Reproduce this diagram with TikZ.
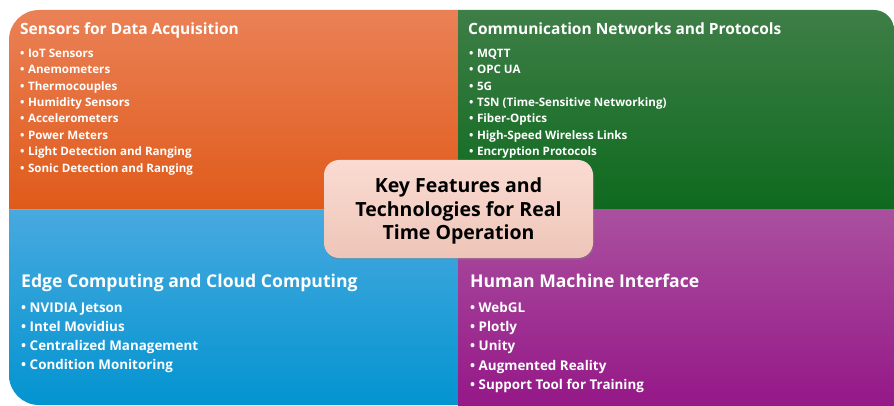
\documentclass[tikz,border=0pt]{standalone}
\usepackage{fontspec}
\setmainfont{Open Sans}
\usetikzlibrary{shadows}
\definecolor{orT}{HTML}{EA8156}
\definecolor{orB}{HTML}{E05A1A}
\definecolor{grT}{HTML}{3E7E47}
\definecolor{grB}{HTML}{0E6A1E}
\definecolor{blT}{HTML}{48A9DF}
\definecolor{blB}{HTML}{0394D0}
\definecolor{puT}{HTML}{AA509F}
\definecolor{puB}{HTML}{951888}
\definecolor{ceT}{HTML}{FADBD2}
\definecolor{ceB}{HTML}{EEC5B8}
\tikzset{
  toptitle/.style={anchor=base west, text=white, font=\fontsize{15.5}{18}\selectfont\bfseries, inner sep=0pt},
  topitem/.style={anchor=base west, text=white, font=\fontsize{11.6}{13}\selectfont\bfseries, inner sep=0pt},
  bottitle/.style={anchor=base west, text=white, font=\fontsize{17.6}{20}\selectfont\bfseries, inner sep=0pt},
  botitem/.style={anchor=base west, text=white, font=\fontsize{13.4}{16}\selectfont\bfseries, inner sep=0pt},
  centerbox/.style={rounded corners=15pt, top color=ceT, bottom color=ceB, minimum width=269pt, minimum height=98pt, drop shadow={shadow xshift=1pt, shadow yshift=-2pt, opacity=0.35}},
  centertext/.style={align=center, text=black, inner sep=0pt, font=\fontsize{19.5}{23.5}\selectfont\bfseries}
}
\begin{document}
\begin{tikzpicture}[x=1pt,y=1pt]
\useasboundingbox (0,0) rectangle (894,405);
% quadrants
\shade[top color=orT, bottom color=orB] (9,195.5) -- (9,365) arc(180:90:30) -- (458,395) -- (458,195.5) -- cycle;
\shade[top color=grT, bottom color=grB] (458,195.5) -- (458,395) -- (874,395) arc(90:0:20) -- (894,195.5) -- cycle;
\shade[top color=blT, bottom color=blB] (9,195.5) -- (9,30) arc(180:270:30) -- (458,0) -- (458,195.5) -- cycle;
\shade[top color=puT, bottom color=puB] (458,195.5) rectangle (894,0);
% top-left
\node[toptitle] (t1) at (20,370.5) {Sensors for Data Acquisition};
\foreach \t [count=\i] in {IoT Sensors, Anemometers, Thermocouples, Humidity Sensors, Accelerometers, Power Meters, Light Detection and Ranging, Sonic Detection and Ranging}
  \node[topitem] (a\i) at (20,{347.7-16.4*(\i-1)}) {•\hspace{3.5pt}\t};
% top-right
\node[toptitle] (t2) at (468,370.5) {Communication Networks and Protocols};
\foreach \t [count=\i] in {MQTT, OPC UA, 5G, TSN (Time-Sensitive Networking), Fiber-Optics, High-Speed Wireless Links, Encryption Protocols}
  \node[topitem] (b\i) at (469,{347.7-16.4*(\i-1)}) {•\hspace{3.5pt}\t};
% bottom-left
\node[bottitle] (t3) at (21,118) {Edge Computing and Cloud Computing};
\foreach \t [count=\i] in {NVIDIA Jetson, Intel Movidius, Centralized Management, Condition Monitoring}
  \node[botitem] (c\i) at (21,{92.7-19.2*(\i-1)}) {•\hspace{3.5pt}\t};
% bottom-right
\node[bottitle] (t4) at (470,118) {Human Machine Interface};
\foreach \t [count=\i] in {WebGL, Plotly, Unity, Augmented Reality, Support Tool for Training}
  \node[botitem] (d\i) at (470,{92.7-19.25*(\i-1)}) {•\hspace{3.5pt}\t};
% centre
\node[centerbox] (center) at (458.5,196) {};
\node[centertext] (ctext) at ([yshift=-2pt]center.center) {Key Features and\\Technologies for Real\\Time Operation};
\end{tikzpicture}
\end{document}
